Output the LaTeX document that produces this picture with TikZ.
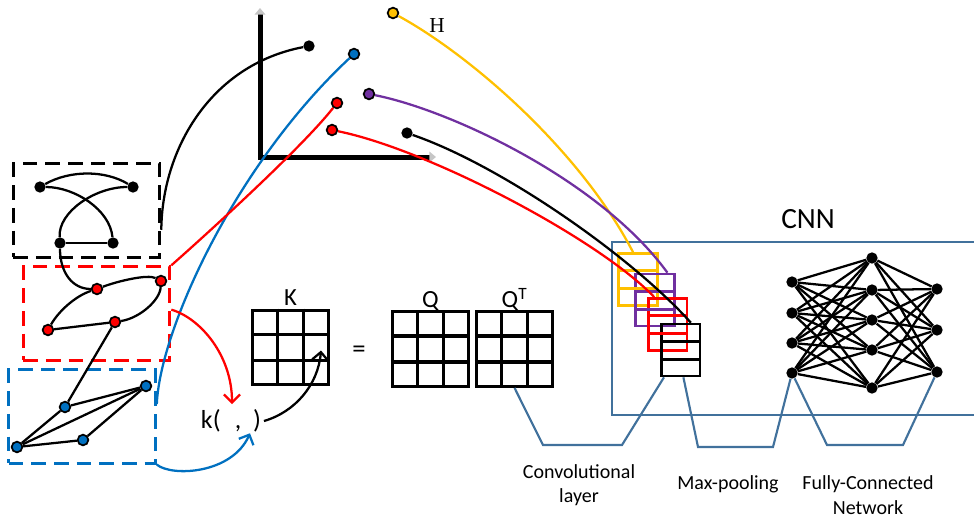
\documentclass[tikz,border=0pt]{standalone}
\usepackage{fontspec}
\setmainfont{Carlito}
\newfontfamily\serifH{Liberation Serif}
\usetikzlibrary{arrows.meta,calc,positioning}
\definecolor{ink}{HTML}{000000}
\definecolor{kred}{HTML}{FF0000}
\definecolor{kblue}{HTML}{0070C0}
\definecolor{kyellow}{HTML}{FFC000}
\definecolor{kpurple}{HTML}{7030A0}
\definecolor{steel}{HTML}{41719C}

\tikzset{
  vtx/.style={circle,fill=ink,inner sep=0pt,minimum size=8.5pt},
  cvtx/.style={circle,draw=ink,line width=1.3pt,fill=#1,inner sep=0pt,minimum size=8pt},
  gedge/.style={ink,line width=1.7pt},
  gbox/.style={draw=#1,dash pattern=on 11pt off 6pt,line width=2.2pt,minimum width=110pt,minimum height=70pt,inner sep=0pt},
  link/.style={line width=1.7pt},
  tip/.style={-{Straight Barb[length=6pt,width=12pt]}},
  mat/.style={draw=ink,line width=2.3pt,minimum width=57pt,minimum height=56pt,inner sep=0pt},
  filt/.style={draw=#1,line width=2pt,minimum width=29pt,minimum height=39pt,inner sep=0pt},
  neuron/.style={circle,fill=ink,inner sep=0pt,minimum size=8.5pt},
  fc/.style={ink,line width=1.7pt},
  brace/.style={steel,line width=1.6pt},
  lbl/.style={font=\fontsize{15}{18.5}\selectfont,align=center},
  big/.style={font=\fontsize{18.5}{20}\selectfont,inner sep=1pt}
}

\begin{document}
\begin{tikzpicture}[x=0.75pt,y=0.75pt]
\useasboundingbox (0,0) rectangle (974,-518);

% graph boxes
\node[gbox=ink] (gblack) at (86.5,-210.5) {};
\node[gbox=kred] (gred) at (96.5,-313.5) {};
\node[gbox=kblue] (gblue) at (82,-416.5) {};

\node[vtx] (gk1) at (40,-187) {};
\node[vtx] (gk2) at (133,-187) {};
\node[vtx] (gk3) at (60,-243) {};
\node[vtx] (gk4) at (113,-243) {};
\node[cvtx=kred] (gr1) at (97,-289) {};
\node[cvtx=kred] (gr2) at (161,-281) {};
\node[cvtx=kred] (gr3) at (115,-322) {};
\node[cvtx=kred] (gr4) at (48,-330) {};
\node[cvtx=kblue] (gb1) at (146,-386) {};
\node[cvtx=kblue] (gb2) at (65,-407) {};
\node[cvtx=kblue] (gb3) at (83,-440) {};
\node[cvtx=kblue] (gb4) at (17,-447) {};

\draw[gedge] (gk1) .. controls (70,-170) and (105,-170) .. (gk2);
\draw[gedge] (gk1) .. controls (75,-187) and (110,-210) .. (gk4);
\draw[gedge] (gk2) .. controls (95,-187) and (58,-212) .. (gk3);
\draw[gedge] (gk3) -- (gk4);
\draw[gedge] (gk3) .. controls (60,-272) and (72,-289) .. (gr1);
\draw[gedge] (gr4) .. controls (58,-312) and (75,-296) .. (gr1);
\draw[gedge] (gr1) .. controls (118,-281) and (148,-274) .. (gr2);
\draw[gedge] (gr2) .. controls (160,-300) and (140,-318) .. (gr3);
\draw[gedge] (gr4) -- (gr3);
\draw[gedge] (gr3) -- (gb2);
\draw[gedge] (gb2) -- (gb1);
\draw[gedge] (gb4) -- (gb2);
\draw[gedge] (gb4) -- (gb1);
\draw[gedge] (gb4) -- (gb3);
\draw[gedge] (gb3) -- (gb1);

% embedding space
\coordinate (ytop) at (260,-8);
\coordinate (origin) at (260,-157);
\coordinate (xend) at (436,-157);
\draw[line width=3.75pt,{Triangle[gray!45,length=5pt,width=8pt]}-{Triangle[gray!45,length=5pt,width=8pt]}] (ytop) -- (origin) -- (xend);

\node[vtx] (pk1) at (309,-46) {};
\node[cvtx=kblue] (pb) at (354,-54) {};
\node[cvtx=kred] (pr1) at (337,-103) {};
\node[cvtx=kpurple] (pp) at (369,-94) {};
\node[cvtx=kred] (pr2) at (332,-130) {};
\node[vtx] (pk2) at (407,-133) {};
\node[cvtx=kyellow] (py) at (393,-13) {};
\node[font=\serifH\fontsize{16}{18}\selectfont] (hlbl) at (437,-26) {H};

\draw[link] ($(gblack.south east)!0.3!(gblack.north east)$) .. controls (162,-150) and (210,-65) .. (pk1);
\draw[link,kblue] ($(gblue.north east)!0.37!(gblue.south east)$) .. controls (160,-330) and (235,-165) .. (pb);
\draw[link,kred] (gred.north east) .. controls (200,-240) and (300,-150) .. (pr1);

% kernel
\node[big,font=\fontsize{19.5}{21}\selectfont,inner sep=2pt] (kfun) at (231,-421) {k(\hspace{0.55em},\hspace{0.45em})};
\node[mat] (K) at (290.5,-347.5) {};
\node[big] (kl) [above=1pt of K] {K};
\node[font=\fontsize{20}{22}\selectfont] (eq) at (359,-352) {=};
\node[mat] (Q) at (430.5,-349) {};
\node[mat] (QT) at (514.5,-349) {};
\node[big] (ql) [above=-2pt of Q] {Q};
\node[big] (qtl) [above=-2pt of QT] {Q\textsuperscript{T}};
\foreach \m in {K,Q,QT}{
  \foreach \f in {0.333,0.667}{
    \draw[ink,line width=2.3pt] ($(\m.north west)!\f!(\m.north east)$) -- ($(\m.south west)!\f!(\m.south east)$);
    \draw[ink,line width=2.3pt] ($(\m.north west)!\f!(\m.south west)$) -- ($(\m.north east)!\f!(\m.south east)$);
  }
}

\draw[link,kred,tip] ($(gred.north east)!0.46!(gred.south east)$) .. controls (200,-318) and (232,-355) .. (232,-404);
\draw[link,kblue,tip] (gblue.south east) .. controls (172,-477) and (232,-474) .. ($(kfun.south)+(19,2)$);
\draw[link,ink,tip] (kfun.east) .. controls (295,-412) and (318,-385) .. ($(K.east)+(-9,-3)$);

% CNN
\draw[steel,line width=1.8pt] (976,-242) -| (612,-415) -- (976,-415);
\node[font=\fontsize{22}{24}\selectfont] (cnn) at (808,-219) {CNN};

\node[filt=kyellow] (fyel) at (638,-279.5) {};
\node[filt=kpurple] (fpur) at (655,-300) {};
\node[filt=kred] (fred) at (667.5,-324.5) {};
\node[filt=ink] (fblk) at (680.5,-350) {};
\foreach \b/\c in {fyel/kyellow,fpur/kpurple,fred/kred,fblk/ink}{
  \foreach \f in {0.34,0.67}{
    \draw[\c,line width=2pt] ($(\b.north west)!\f!(\b.south west)$) -- ($(\b.north east)!\f!(\b.south east)$);
  }
}

\draw[link,kyellow] (py) .. controls (470,-55) and (580,-150) .. ($(fyel.north west)!0.38!(fyel.north east)$);
\draw[link,kpurple] (pp) .. controls (450,-110) and (600,-180) .. ($(fpur.north west)!0.8!(fpur.north east)$);
\draw[link,kred] (pr2) .. controls (430,-150) and (600,-240) .. ($(fred.north west)!0.18!(fred.north east)$);
\draw[link,ink] (pk2) .. controls (500,-165) and (630,-255) .. ($(fblk.north west)!0.75!(fblk.north east)$);

% fully connected network
\foreach \y [count=\i] in {282,313,343,373} \node[neuron] (a\i) at (792,-\y) {};
\foreach \y [count=\i] in {258,290,320,350,388} \node[neuron] (b\i) at (872,-\y) {};
\foreach \y [count=\i] in {289,330,372} \node[neuron] (c\i) at (937,-\y) {};
\foreach \i in {1,...,4}{\foreach \j in {1,...,5}{\draw[fc] (a\i) -- (b\j);}}
\foreach \i in {1,...,5}{\foreach \j in {1,...,3}{\draw[fc] (b\i) -- (c\j);}}

% stage labels
\draw[brace] (QT.south) -- (543,-445) -- (622,-445) -- ($(fblk.south west)!0.1!(fblk.south east)$);
\draw[brace] ($(fblk.south west)!0.57!(fblk.south east)$) -- (698,-447) -- (773,-447) -- (a4);
\draw[brace] (a4) -- (827,-445) -- (903,-445) -- (c3);
\node[lbl] (convl) at (579,-485) {Convolutional\\layer};
\node[lbl] (mpl) at (728,-484) {Max-pooling};
\node[lbl] (fcl) at (868,-495) {Fully-Connected\\Network};
\end{tikzpicture}
\end{document}
